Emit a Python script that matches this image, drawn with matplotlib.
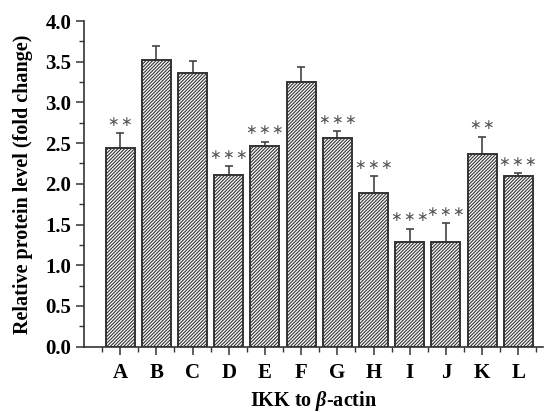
import matplotlib
matplotlib.use("Agg")
import matplotlib.pyplot as plt
from matplotlib.ticker import MultipleLocator, FixedLocator, FormatStrFormatter

# Proteinové hladiny IKK vztažené k beta-aktinu
groups = ['A', 'B', 'C', 'D', 'E', 'F', 'G', 'H', 'I', 'J', 'K', 'L']
means = [2.44, 3.52, 3.36, 2.11, 2.47, 3.25, 2.56, 1.89, 1.29, 1.29, 2.37, 2.10]
errors = [0.18, 0.17, 0.15, 0.11, 0.05, 0.18, 0.09, 0.21, 0.16, 0.23, 0.21, 0.03]
stars = [2, 0, 0, 3, 3, 0, 3, 3, 3, 3, 2, 3]

plt.rcParams['font.family'] = ['Liberation Serif', 'DejaVu Serif']
plt.rcParams['mathtext.fontset'] = 'custom'
plt.rcParams['mathtext.it'] = 'Liberation Serif:italic:bold'
plt.rcParams['mathtext.rm'] = 'Liberation Serif:bold'
plt.rcParams['hatch.linewidth'] = 0.8
plt.rcParams['hatch.color'] = '#333333'

fig = plt.figure(figsize=(5.44, 4.12), dpi=100)
ax = fig.add_axes([0.1544, 0.1585, 0.8436, 0.7905])

x = list(range(1, len(groups) + 1))
ax.bar(x, means, width=0.8, color='white', edgecolor='#333333',
       linewidth=1.4, hatch='//////////', zorder=2)
ax.errorbar(x, means, yerr=[[0] * len(errors), errors], fmt='none',
            ecolor='#444444', elinewidth=1.2, capsize=3, capthick=1.2, zorder=1)

# hvězdičky významnosti nad chybovými úsečkami
for xi, m, e, n in zip(x, means, errors, stars):
    if n:
        ax.annotate('\u200a'.join(['\u2217'] * n), (xi, m + e), xytext=(0, 3),
                    textcoords='offset points', ha='center', va='bottom',
                    fontsize=10, color='#555555', family='DejaVu Sans')

ax.set_xlim(0, 12.68)
ax.set_ylim(0, 4.0)
ax.set_xticks(x)
ax.set_xticklabels(groups)
ax.xaxis.set_minor_locator(FixedLocator([i + 0.5 for i in range(0, 13)]))
ax.yaxis.set_major_locator(MultipleLocator(0.5))
ax.yaxis.set_minor_locator(MultipleLocator(0.25))
ax.yaxis.set_major_formatter(FormatStrFormatter('%.1f'))

for side in ['top', 'right']:
    ax.spines[side].set_visible(False)
for side in ['left', 'bottom']:
    ax.spines[side].set_linewidth(1.2)
    ax.spines[side].set_color('#333333')

ax.tick_params(which='major', direction='out', length=6, width=1.1, color='#333333',
               labelsize=15, pad=3)
ax.tick_params(which='minor', direction='out', length=3.5, width=1.0, color='#333333')
ax.tick_params(axis='x', which='major', pad=6)
for lbl in ax.get_xticklabels() + ax.get_yticklabels():
    lbl.set_fontweight('bold')

ax.set_ylabel('Relative protein level (fold change)', fontsize=14.5, fontweight='bold', labelpad=9)
ax.set_xlabel(r'IKK to $\beta$-actin', fontsize=14.5, fontweight='bold', labelpad=4)

fig.savefig('out.png', dpi=100)
